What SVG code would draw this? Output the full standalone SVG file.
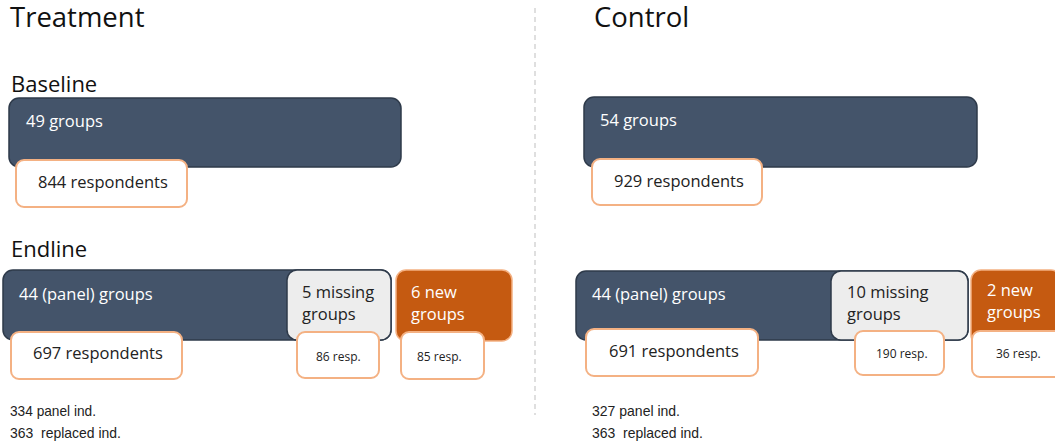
<svg xmlns="http://www.w3.org/2000/svg" width="1055" height="448" viewBox="0 0 1055 448">
<style>
.title{font-family:"Open Sans","Noto Sans",sans-serif;font-size:27.5px;fill:#111}
.sub{font-family:"Open Sans","Noto Sans",sans-serif;font-size:22px;fill:#111}
.dark{fill:#44546A;stroke:#2E3A4A;stroke-width:1.5}
.gray{fill:#EDEDED;stroke:#2E3A4A;stroke-width:1.5}
.orange{fill:#C55A11;stroke:#F4B183;stroke-width:1.5}
.resp{fill:#FFFFFF;stroke:#F4B183;stroke-width:2}
.wt{font-family:"Open Sans","Noto Sans",sans-serif;font-size:16.5px;fill:#FFFFFF}
.bt{font-family:"Open Sans","Noto Sans",sans-serif;font-size:16.5px;fill:#222}
.st{font-family:"Open Sans","Noto Sans",sans-serif;font-size:12px;fill:#222}
.note{font-family:"Liberation Sans",Arial,sans-serif;font-size:15px;fill:#222}
</style>
<g id="divider"><line x1="535" y1="8" x2="535" y2="415" stroke="#BFBFBF" stroke-width="1" stroke-dasharray="5,4"/></g>

<g id="treatment-title"><text class="title" x="10" y="27">Treatment</text></g>
<g id="control-title"><text class="title" x="594" y="27">Control</text></g>

<g id="t-baseline-label"><text class="sub" x="11" y="92">Baseline</text></g>
<g id="t-endline-label"><text class="sub" x="11" y="257">Endline</text></g>

<g id="t-baseline-groups"><rect class="dark" x="9" y="98" width="392" height="69" rx="10"/><text class="wt" x="26" y="127">49 groups</text></g>
<g id="t-baseline-resp"><rect class="resp" x="16" y="160" width="171" height="47" rx="8"/><text class="bt" x="38" y="188">844 respondents</text></g>

<g id="t-panel"><rect class="dark" x="3" y="270" width="388" height="70" rx="10"/><text class="wt" x="19" y="300">44 (panel) groups</text></g>
<g id="t-missing"><rect class="gray" x="287" y="270" width="104" height="70" rx="10"/><text class="bt" x="302" y="298">5 missing</text><text class="bt" x="302" y="320">groups</text></g>
<g id="t-new"><rect class="orange" x="396" y="270" width="116" height="71" rx="10"/><text class="wt" x="411" y="298">6 new</text><text class="wt" x="411" y="320">groups</text></g>
<g id="t-panel-resp"><rect class="resp" x="11" y="332" width="171" height="47" rx="8"/><text class="bt" x="33" y="359">697 respondents</text></g>
<g id="t-missing-resp"><rect class="resp" x="297" y="332" width="82" height="46" rx="8"/><text class="st" x="316" y="361">86 resp.</text></g>
<g id="t-new-resp"><rect class="resp" x="401" y="332" width="83" height="47" rx="8"/><text class="st" x="417" y="361">85 resp.</text></g>
<g id="t-notes"><text class="note" x="10" y="416" textLength="86" lengthAdjust="spacingAndGlyphs">334 panel ind.</text><text class="note" x="10" y="438" xml:space="preserve" textLength="111" lengthAdjust="spacingAndGlyphs">363  replaced ind.</text></g>

<g id="c-baseline-groups"><rect class="dark" x="584" y="97" width="393" height="70" rx="10"/><text class="wt" x="600" y="126">54 groups</text></g>
<g id="c-baseline-resp"><rect class="resp" x="592" y="159" width="170" height="46" rx="8"/><text class="bt" x="614" y="187">929 respondents</text></g>

<g id="c-panel"><rect class="dark" x="576" y="271" width="392" height="69" rx="10"/><text class="wt" x="592" y="300">44 (panel) groups</text></g>
<g id="c-missing"><rect class="gray" x="831" y="271" width="137" height="69" rx="10"/><text class="bt" x="847" y="298">10 missing</text><text class="bt" x="847" y="320">groups</text></g>
<g id="c-new"><rect class="orange" x="971" y="270" width="90" height="75" rx="10"/><text class="wt" x="987" y="296">2 new</text><text class="wt" x="987" y="318">groups</text></g>
<g id="c-panel-resp"><rect class="resp" x="586" y="329" width="172" height="47" rx="8"/><text class="bt" x="609" y="357">691 respondents</text></g>
<g id="c-missing-resp"><rect class="resp" x="855" y="331" width="89" height="44" rx="8"/><text class="st" x="876" y="358">190 resp.</text></g>
<g id="c-new-resp"><rect class="resp" x="972" y="331" width="90" height="46" rx="8"/><text class="st" x="996" y="358">36 resp.</text></g>
<g id="c-notes"><text class="note" x="592" y="416" textLength="88" lengthAdjust="spacingAndGlyphs">327 panel ind.</text><text class="note" x="592" y="438" xml:space="preserve" textLength="111" lengthAdjust="spacingAndGlyphs">363  replaced ind.</text></g>
</svg>
